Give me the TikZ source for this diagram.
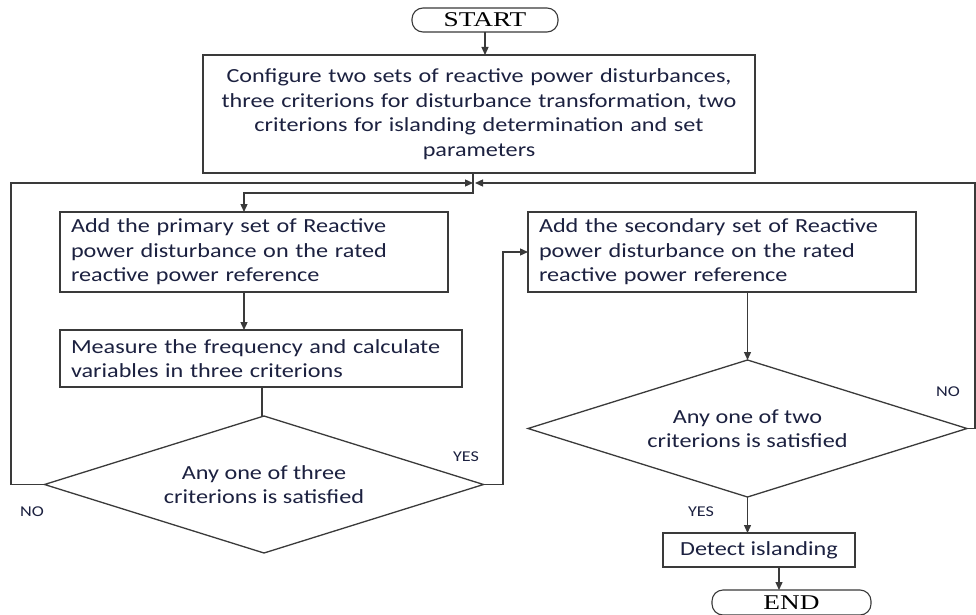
\documentclass[tikz,border=0pt]{standalone}
\usepackage{fontspec}
\setmainfont{Carlito}[FakeStretch=1.21]
\newfontfamily\serifx{Liberation Serif}[FakeStretch=1.3]
\usetikzlibrary{shapes.geometric,arrows.meta,calc}
\definecolor{txt}{HTML}{1C2140}
\definecolor{ln}{HTML}{3A3A3A}
\begin{document}
\begin{tikzpicture}[x=1pt,y=-1pt,
  every node/.style={inner sep=0pt,outer sep=0pt},
  box/.style={draw=ln,line width=1.3pt,rectangle,text=txt,font=\fontsize{20}{24.5}\selectfont},
  term/.style={draw=ln,line width=1.1pt,rectangle,rounded corners=11pt,text=black,font=\serifx\fontsize{21}{24}\selectfont},
  dec/.style={draw=ln,line width=1.3pt,diamond,aspect=3.2,minimum width=439pt,minimum height=137pt,text=txt,align=center,font=\fontsize{20}{24}\selectfont},
  lab/.style={text=txt,font=\fontsize{15}{17}\selectfont},
  conn/.style={draw=ln,line width=1.3pt},
  arr/.style={conn,-{Triangle[length=8pt,width=7pt]}}]
\useasboundingbox (0,0) rectangle (976,615);
\fill[white] (0,0) rectangle (976,615);
\node[term,minimum width=146pt,minimum height=24pt] (start) at (485,20) {START};
\node[box,minimum width=552pt,minimum height=118pt,text width=545pt,align=center] (config) at (479,114)
  {Configure two sets of reactive power disturbances,\\three criterions for disturbance transformation, two\\criterions for islanding determination and set\\parameters};
\node[box,minimum width=388pt,minimum height=80pt,text width=366pt,align=left] (box1) at (254,252)
  {Add the primary set of Reactive\\power disturbance on the rated\\reactive power reference};
\node[box,minimum width=402pt,minimum height=57pt,text width=380pt,align=left] (box2) at (261,358.5)
  {Measure the frequency and calculate\\variables in three criterions};
\node[dec] (d1) at (264,484.5) {Any one of three\\criterions is satisfied};
\node[box,minimum width=388pt,minimum height=80pt,text width=366pt,align=left] (box3) at (722,252)
  {Add the secondary set of Reactive\\power disturbance on the rated\\reactive power reference};
\node[dec] (d2) at (747.5,428.5) {Any one of two\\criterions is satisfied};
\node[box,minimum width=192pt,minimum height=34pt] (box4) at (759,550) {Detect islanding};
\node[term,minimum width=159pt,minimum height=25pt] (end) at (791.5,602.5) {END};
\node[lab] (yes1) at (466,457) {YES};
\node[lab] (no1) at (32,512) {NO};
\node[lab] (no2) at (948,392) {NO};
\node[lab] (yes2) at (701,512) {YES};
\coordinate (j1) at (473,193);
\coordinate (m) at (474,183);
\coordinate (c1) at (244,0);
\coordinate (c2) at (262,0);
\coordinate (c3) at (779,0);
\draw[arr] (start.south) -- (start.south |- config.north);
\draw[arr] (config.south -| j1) -- (j1) -| (box1.north -| c1);
\draw[arr] (box1.south -| c1) -- (box2.north -| c1);
\draw[conn] (box2.south -| c2) -- (d1.north -| c2);
\draw[arr] (d1.west) -- (11,484.5) |- ($(m)+(-1,0)$);
\draw[arr] (d1.east) -- (503,484.5) |- (box3.west);
\draw[arr] (box3.south -| d2.north) -- (d2.north);
\draw[arr] (d2.south) -- (d2.south |- box4.north);
\draw[arr] (box4.south -| c3) -- (end.north -| c3);
\draw[arr] (d2.east) -- (975,428.5) |- ($(m)+(1,0)$);
\end{tikzpicture}
\end{document}
